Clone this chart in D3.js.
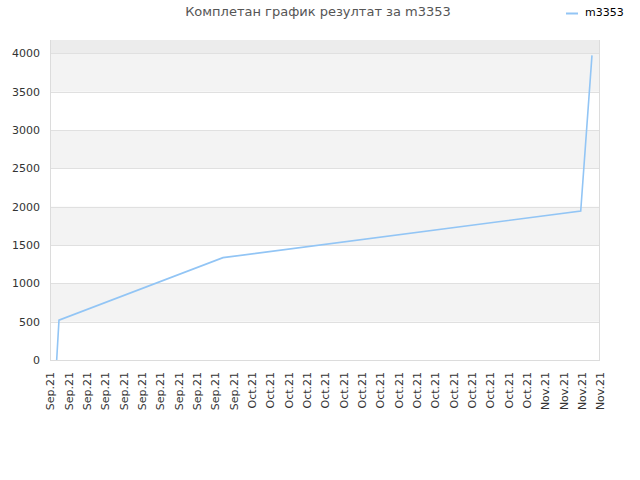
<!DOCTYPE html>
<html>
<head>
<meta charset="utf-8">
<script src="https://cdn.jsdelivr.net/npm/d3@7"></script>
<style>
  body { margin:0; background:#fff; }
  text { font-family: "DejaVu Sans", sans-serif; }
</style>
</head>
<body>
<div class="canvas"></div>
<script>
var title = "Комплетан график резултат за m3353";
var seriesName = "m3353";

// points
var dates = ["2021-09-09T17:30", "2021-09-09T23:30", "2021-09-27T21:00", "2021-11-05T21:30", "2021-11-07T03:00"];
var values = [0, 520, 1335, 1944, 3974];

// x ticks every two days
var tickDates = ["2021-09-09","2021-09-11","2021-09-13","2021-09-15","2021-09-17","2021-09-19","2021-09-21",
  "2021-09-23","2021-09-25","2021-09-27","2021-09-29","2021-10-01","2021-10-03","2021-10-05","2021-10-07",
  "2021-10-09","2021-10-11","2021-10-13","2021-10-15","2021-10-17","2021-10-19","2021-10-21","2021-10-23",
  "2021-10-25","2021-10-27","2021-10-29","2021-10-31","2021-11-02","2021-11-04","2021-11-06","2021-11-08"];
var yTicks = [0, 500, 1000, 1500, 2000, 2500, 3000, 3500, 4000];

var margin = {t:40, r:40, b:120, l:50};
var W = 640, H = 480;
var width = W - margin.l - margin.r,
    height = H - margin.t - margin.b;

var parse = d3.timeParse("%Y-%m-%dT%H:%M"),
    parseDay = d3.timeParse("%Y-%m-%d");

var data = dates.map(function(d, i){ return {date: parse(d), value: values[i]}; });
var ticks = tickDates.map(parseDay);

var svg = d3.select('.canvas')
    .append('svg')
    .attr('width', W)
    .attr('height', H);

var canvas = svg.append('g')
    .attr('transform', 'translate(' + margin.l + ',' + margin.t + ')');

var x = d3.scaleTime()
    .domain([ticks[0], ticks[ticks.length - 1]])
    .range([0, width]);

var y = d3.scaleLinear()
    .domain([0, 4174])
    .range([height, 0]);

// bands
canvas.append('rect')
    .attr('x', 0).attr('y', 0)
    .attr('width', width).attr('height', y(4000))
    .style('fill', '#ececec');

canvas.selectAll('.band')
    .data(yTicks.slice(0, -1).filter(function(d, i){ return i % 2 == 1; }))
    .enter()
    .append('rect')
    .attr('class', 'band')
    .attr('x', 0)
    .attr('y', function(d){ return y(d + 500); })
    .attr('width', width)
    .attr('height', function(d){ return y(d) - y(d + 500); })
    .style('fill', '#f3f3f3');

// grid
canvas.selectAll('.grid')
    .data(yTicks)
    .enter()
    .append('line')
    .attr('class', 'grid')
    .attr('x1', 0).attr('x2', width)
    .attr('y1', function(d){ return Math.round(y(d)) + 0.5; })
    .attr('y2', function(d){ return Math.round(y(d)) + 0.5; })
    .style('stroke', '#e0e0e0');

// frame
canvas.append('line').attr('x1', 0.5).attr('x2', 0.5).attr('y1', 0).attr('y2', height).style('stroke', '#dcdcdc');
canvas.append('line').attr('x1', width - 0.5).attr('x2', width - 0.5).attr('y1', 0).attr('y2', height).style('stroke', '#dcdcdc');
canvas.append('line').attr('x1', 0).attr('x2', width).attr('y1', height + 0.5).attr('y2', height + 0.5).style('stroke', '#dcdcdc');

// y axis
var yAxis = canvas.append('g')
    .call(d3.axisLeft(y).tickValues(yTicks).tickSize(0).tickPadding(10).tickFormat(d3.format('d')));
yAxis.select('.domain').remove();
yAxis.selectAll('text')
    .style('font-size', '11px')
    .style('fill', '#333')
    .style('font-family', '"DejaVu Sans", sans-serif');

// x axis
var xAxis = canvas.append('g')
    .attr('transform', 'translate(0,' + height + ')')
    .call(d3.axisBottom(x).tickValues(ticks).tickSize(0).tickFormat(d3.timeFormat('%b.%y')));
xAxis.select('.domain').remove();
xAxis.selectAll('text')
    .attr('transform', 'rotate(-90)')
    .attr('x', -12)
    .attr('y', 0)
    .attr('dy', '0.35em')
    .style('text-anchor', 'end')
    .style('font-size', '11px')
    .style('fill', '#333')
    .style('font-family', '"DejaVu Sans", sans-serif');

// line
var line = d3.line()
    .x(function(d){ return x(d.date); })
    .y(function(d){ return y(d.value); });

canvas.append('path')
    .datum(data)
    .attr('d', line)
    .style('fill', 'none')
    .style('stroke', '#92c5f5')
    .style('stroke-width', 1.6);

// title
svg.append('text')
    .attr('x', 318)
    .attr('y', 16)
    .attr('text-anchor', 'middle')
    .style('font-size', '13px')
    .style('fill', '#555')
    .text(title);

// legend
svg.append('line')
    .attr('x1', 566).attr('x2', 578)
    .attr('y1', 13.5).attr('y2', 13.5)
    .style('stroke', '#92c5f5')
    .style('stroke-width', 2);
svg.append('text')
    .attr('x', 585)
    .attr('y', 16)
    .style('font-size', '11px')
    .style('fill', '#000')
    .text(seriesName);
</script>
</body>
</html>
